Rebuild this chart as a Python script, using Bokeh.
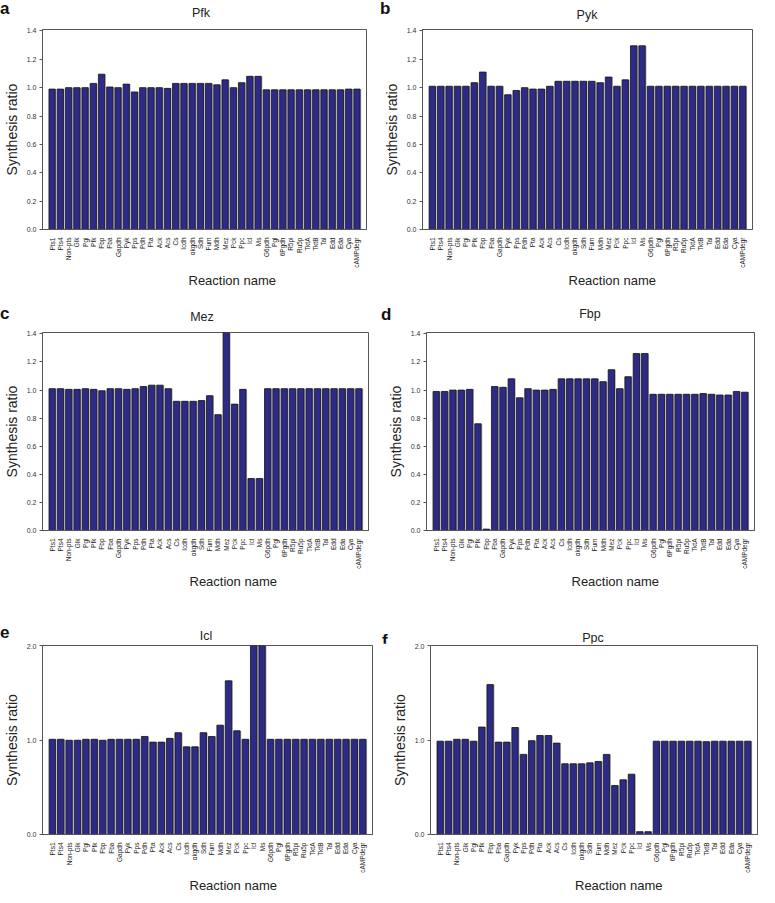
import math
from bokeh.plotting import figure
from bokeh.layouts import column, row
from bokeh.models import (ColumnDataSource, FixedTicker, Range1d, FactorRange,
                          NumeralTickFormatter, Div, Title)
from bokeh.transform import dodge
from bokeh.embed import file_html
from bokeh.resources import INLINE

reactions = ["Pts1", "Pts4", "Non-pts", "Glk", "Pgi", "Pfk", "Fbp", "Fba", "Gapdh", "Pyk",
             "Pps", "Pdh", "Pta", "Ack", "Acs", "Cs", "Icdh", "αkgdh", "Sdh", "Fum",
             "Mdh", "Mez", "Pck", "Ppc", "Icl", "Ms", "G6pdh", "Pgl", "6Pgdh", "R5pi",
             "Ru5p", "TktA", "TktB", "Tal", "Edd", "Eda", "Cya", "cAMPdegr"]

pfk = [0.99, 0.99, 1.0, 1.0, 1.0, 1.03, 1.095, 1.005, 1.0, 1.025,
       0.97, 1.0, 1.0, 1.0, 0.995, 1.03, 1.03, 1.03, 1.03, 1.03,
       1.02, 1.055, 1.0, 1.035, 1.08, 1.08, 0.985, 0.985, 0.985, 0.985,
       0.985, 0.985, 0.985, 0.985, 0.985, 0.985, 0.99, 0.99]

pyk = [1.01, 1.01, 1.01, 1.01, 1.01, 1.035, 1.11, 1.01, 1.01, 0.95,
       0.98, 1.0, 0.99, 0.99, 1.01, 1.045, 1.045, 1.045, 1.045, 1.045,
       1.035, 1.075, 1.01, 1.055, 1.295, 1.295, 1.01, 1.01, 1.01, 1.01,
       1.01, 1.01, 1.01, 1.01, 1.01, 1.01, 1.01, 1.01]

mez = [1.01, 1.01, 1.005, 1.005, 1.01, 1.005, 0.995, 1.01, 1.01, 1.005,
       1.01, 1.025, 1.035, 1.035, 1.01, 0.92, 0.92, 0.92, 0.925, 0.96,
       0.825, 1.45, 0.9, 1.005, 0.37, 0.37, 1.01, 1.01, 1.01, 1.01,
       1.01, 1.01, 1.01, 1.01, 1.01, 1.01, 1.01, 1.01]

fbp = [0.99, 0.99, 1.0, 1.0, 1.005, 0.76, 0.01, 1.025, 1.02, 1.08,
       0.945, 1.01, 1.0, 1.0, 1.005, 1.08, 1.08, 1.08, 1.08, 1.08,
       1.06, 1.145, 1.01, 1.095, 1.26, 1.26, 0.97, 0.97, 0.97, 0.97,
       0.97, 0.97, 0.975, 0.97, 0.965, 0.965, 0.99, 0.985]

icl = [1.01, 1.01, 1.0, 1.0, 1.01, 1.01, 1.0, 1.01, 1.01, 1.01,
       1.01, 1.04, 0.98, 0.98, 1.02, 1.08, 0.93, 0.93, 1.08, 1.04,
       1.16, 1.63, 1.10, 1.01, 2.1, 2.1, 1.01, 1.01, 1.01, 1.01,
       1.01, 1.01, 1.01, 1.01, 1.01, 1.01, 1.01, 1.01]

ppc = [0.99, 0.99, 1.01, 1.01, 0.99, 1.14, 1.59, 0.98, 0.98, 1.135,
       0.85, 0.995, 1.05, 1.05, 0.97, 0.75, 0.75, 0.75, 0.76, 0.775,
       0.85, 0.52, 0.58, 0.64, 0.03, 0.03, 0.99, 0.99, 0.99, 0.99,
       0.99, 0.99, 0.985, 0.99, 0.99, 0.99, 0.99, 0.99]

ticks_low = [0.0, 0.2, 0.4, 0.6, 0.8, 1.0, 1.2, 1.4]
ticks_high = [0.0, 1.0, 2.0]

FONT = "Liberation Sans"
BAR = "#2d2b87"
PAD = 0.035


def make(vals, ymax, ticks, bl, fw, br, bt, fh, bb):
    src = ColumnDataSource(dict(x=reactions, top=vals))
    p = figure(x_range=FactorRange(*reactions, range_padding=PAD),
               y_range=Range1d(0, ymax), width=bl + fw + br, height=bt + fh + bb,
               output_backend="svg", toolbar_location=None, tools="",
               min_border_left=bl, min_border_right=br, min_border_top=bt,
               min_border_bottom=bb)
    p.vbar(x=dodge("x", 0.14, range=p.x_range), top="top", width=0.76, source=src,
           fill_color="#a5a5a5", line_color=None)
    p.vbar(x="x", top="top", width=0.76, source=src, fill_color=BAR,
           line_color="#151515", line_width=0.8)
    p.xgrid.visible = False
    p.ygrid.visible = False
    p.outline_line_color = "#555555"
    p.outline_line_width = 1
    p.background_fill_color = "white"
    p.border_fill_color = "white"

    p.yaxis.ticker = FixedTicker(ticks=ticks)
    p.yaxis.formatter = NumeralTickFormatter(format="0.0")
    p.yaxis.minor_tick_line_color = None
    p.yaxis.major_tick_out = 3
    p.yaxis.major_tick_in = 0
    p.yaxis.major_tick_line_color = "#555555"
    p.yaxis.axis_line_color = "#555555"
    p.yaxis.major_label_text_font = FONT
    p.yaxis.major_label_text_font_size = "7px"
    p.yaxis.major_label_text_color = "#333333"
    p.yaxis.major_label_standoff = 3
    p.yaxis.axis_label = "Synthesis ratio"
    p.yaxis.axis_label_text_font = FONT
    p.yaxis.axis_label_text_font_size = "14px"
    p.yaxis.axis_label_text_font_style = "normal"
    p.yaxis.axis_label_text_color = "#222222"
    p.yaxis.axis_label_standoff = 4

    p.xaxis.major_tick_line_color = None
    p.xaxis.minor_tick_line_color = None
    p.xaxis.axis_line_color = "#555555"
    p.xaxis.major_label_orientation = math.pi / 2
    p.xaxis.major_label_text_font = FONT
    p.xaxis.major_label_text_font_size = "6.5px"
    p.xaxis.major_label_text_color = "#222222"
    p.xaxis.major_label_standoff = 2

    # x-axis title, set off to the right of the frame centre as in the reference
    p.add_layout(Title(text="Reaction name", align="left", offset=fw / 2 + 24 - 43,
                       standoff=0, text_font=FONT, text_font_size="13px",
                       text_font_style="normal", text_color="#222222"), "below")
    return p


def header(letter, name, width, height, letter_left, letter_top, title_cx, title_cy):
    html = (
        f'<div style="position:relative;width:{width}px;height:{height}px;'
        f'font-family:\'{FONT}\',Arial,sans-serif;overflow:visible;">'
        f'<span style="position:absolute;left:{letter_left}px;top:{letter_top}px;'
        f'font-size:17px;font-weight:bold;line-height:17px;color:#111111;">{letter}</span>'
        f'<span style="position:absolute;left:{title_cx}px;top:{title_cy}px;'
        f'transform:translate(-50%,-50%);font-size:12.5px;line-height:13px;'
        f'color:#222222;white-space:nowrap;">{name}</span></div>'
    )
    return Div(text=html, width=width, height=height, margin=0)


W1, W2 = 378, 381

# row 1
pa = make(pfk, 1.41, ticks_low, 36, 330, 12, 5, 200, 61)
pb = make(pyk, 1.41, ticks_low, 44, 330, 7, 5, 200, 61)
ha = header("a", "Pfk", W1, 24, 0, 0, 36 + 165, 13)
hb = header("b", "Pyk", W2, 24, 2, 0, 44 + 165, 15)

# row 2
pc = make(mez, 1.41, ticks_low, 36, 332, 10, 6, 198, 60)
pd = make(fbp, 1.41, ticks_low, 48, 328, 5, 6, 198, 60)
hc = header("c", "Mez", W1, 36, 0, 15, 36 + 166, 27)
hd = header("d", "Fbp", W2, 36, 3, 16, 48 + 164, 24)

# row 3
pe = make(icl, 2.005, ticks_high, 40, 332, 6, 2, 189, 60)
pf = make(ppc, 2.005, ticks_high, 52, 327, 2, 2, 189, 60)
he = header("e", "Icl", W1, 53, 0, 34, 40 + 166, 46)
hf = header("f", "Ppc", W2, 53, 4, 42, 52 + 163, 48)

layout = column(row(ha, hb), row(pa, pb), row(hc, hd), row(pc, pd), row(he, hf), row(pe, pf))

open("out.html", "w").write(file_html(layout, INLINE))
